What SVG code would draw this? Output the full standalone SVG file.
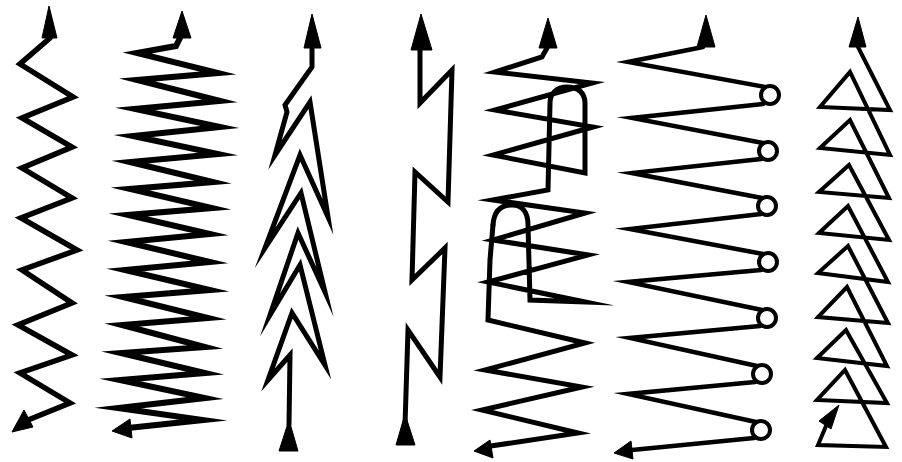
<svg xmlns="http://www.w3.org/2000/svg" width="902" height="462" viewBox="0 0 902 462">
<style>
.s{fill:none;stroke:#000;stroke-linejoin:miter;stroke-miterlimit:12;stroke-linecap:round}
.h{fill:#000;stroke:#000;stroke-width:1;stroke-linejoin:round}
</style>
<rect width="902" height="462" fill="#fff"/>
<g id="p1">
<polyline class="s" stroke-width="5.5" points="50,38 20,64 73,97 22,118 72,147 22,168 72,198 21,218 77,250 22,270 72,303 18,325 72,355 20,373 70,403 28,420"/>
<polygon class="h" points="49,6 42,38 57,38"/>
<polygon class="h" points="12,432 33,427 24,410"/>
</g>
<g id="p2">
<polyline class="s" stroke-width="6" points="180,38 176,46 137,53 218,73 137,80 220,101 135,109 220,127 133,136 218,154 130,162 213,182 130,189 212,208 128,215 210,234 126,242 210,262 125,270 210,290 123,297 208,318 122,325 205,347 121,353 205,373 120,380 205,398 118,408 203,420 128,428"/>
<polygon class="h" points="182,11 173,38 191,38"/>
<polygon class="h" points="112,431 132,438 130,419"/>
</g>
<g id="p3">
<polyline class="s" stroke-width="5" points="312,47 312,67 285,105 287,112 275,155 310,102 328,217 300,155 265,248 301,193 325,292 298,233 270,315 300,265 325,365 292,313 268,380 290,355 289,425"/>
<polygon class="h" points="289,420 279,451 298,451"/>
<polygon class="h" points="312,14 304,48 321,48"/>
</g>
<g id="p4">
<polyline class="s" stroke-width="5" points="420,48 420,103 452,70 448,202 415,172 412,280 445,248 440,377 408,330 405,425"/>
<polygon class="h" points="421,14 411,50 432,50"/>
<polygon class="h" points="405,414 396,445 415,445"/>
</g>
<g id="p5">
<polyline class="s" stroke-width="5" points="484,447 578,433 482,410 582,387 485,370 585,343 488,320 490,260 493,225"/>
<path class="s" stroke-width="5" d="M493,225 C494,210 502,205 512,205 C522,205 528,212 528,225 L530,300 L585,302 L488,282 L588,255 L493,240 L585,213 L493,200 L548,190 L550,103 C550,93 557,87 567,87 C578,87 585,93 585,103 L585,173 L493,155 L593,127 L495,110 L592,83 L495,72 L542,57 L547,48"/>
<polygon class="h" points="548,18 539,48 557,48"/>
<polygon class="h" points="474,451 493,458 490,440"/>
</g>
<g id="p6">
<polyline class="s" stroke-width="4.5" points="703,47 628,62 765,87"/>
<polyline class="s" stroke-width="4.5" points="763,104 632,118 763,143"/>
<polyline class="s" stroke-width="4.5" points="761,159 632,173 762,198"/>
<polyline class="s" stroke-width="4.5" points="761,214 630,229 763,254"/>
<polyline class="s" stroke-width="4.5" points="761,270 628,282 762,310"/>
<polyline class="s" stroke-width="4.5" points="760,326 630,338 757,366"/>
<polyline class="s" stroke-width="4.5" points="755,382 628,394 756,422"/>
<polyline class="s" stroke-width="4.5" points="754,438 632,450"/>
<g class="s" stroke-width="4">
<circle cx="770" cy="95" r="9"/>
<circle cx="768" cy="151" r="9"/>
<circle cx="767" cy="206" r="9"/>
<circle cx="768" cy="262" r="9"/>
<circle cx="767" cy="318" r="9"/>
<circle cx="762" cy="374" r="9"/>
<circle cx="761" cy="430" r="9"/>
</g>
<polygon class="h" points="706,15 697,47 715,47"/>
<polygon class="h" points="614,453 633,459 631,441"/>
</g>
<g id="p7">
<polyline class="s" stroke-width="4" points="858,47 890,110 820,107 850,72 890,155 820,148 850,120 889,198 819,192 849,165 889,240 819,233 848,206 888,282 818,273 848,246 888,323 818,317 847,287 887,366 817,358 846,330 887,403 817,400 845,370 886,447 818,445 826,426"/>
<polygon class="h" points="858,17 849,47 866,47"/>
<polygon class="h" points="839,405 819,421 831,429"/>
</g>
</svg>
